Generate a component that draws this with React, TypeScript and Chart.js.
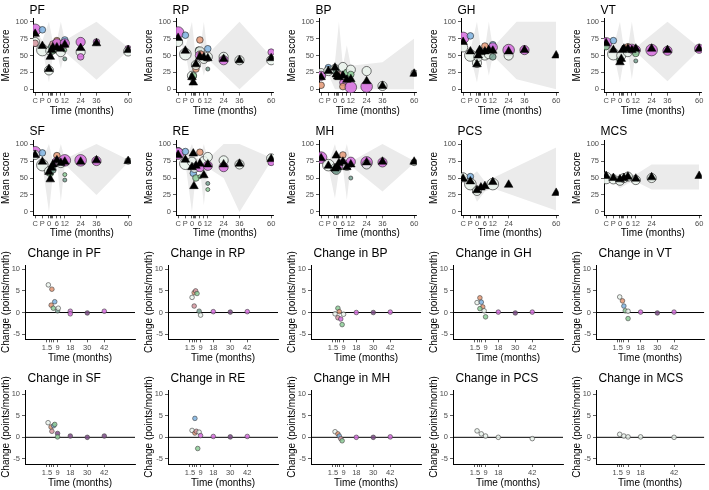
import React, { useEffect, useRef } from 'react';
import { Chart, registerables } from 'chart.js';
Chart.register(...registerables);

// time codes for baseline visits
const C = -10.5;
const P = -5;

// ---------- axis ticks ----------
const scoreTicks = [C, P, 0, 1, 2, 3, 6, 9, 12, 24, 36, 60];
const scoreTickLabels = ['C', 'P', '0', '', '', '', '6', '', '12', '24', '36', '60'];
const summaryTicks = [C, P, 0, 1, 2, 3, 6, 9, 12, 24, 60];
const summaryTickLabels = ['C', 'P', '0', '', '', '', '6', '', '12', '24', '60'];
const changeTicks = [1.5, 3, 4.5, 6, 9, 18, 30, 42];
const changeTickLabels = ['1.5', '', '', '', '9', '18', '30', '42'];
const changeSummaryTicks = [1.5, 3, 4.5, 6, 9, 18, 42];
const changeSummaryTickLabels = ['1.5', '', '', '', '9', '18', '42'];
const scoreYTicks = [0, 25, 50, 75, 100];
const changeYTicks = [-5, 0, 5, 10];

// ---------- mean score data: circles [time, score, n-class, group], triangles [time, pooled], ribbon [time, low, high] ----------
const pfCircles = [[C, 88, 4, 'mag'], [C, 70, 3, 'white'], [C, 68, 2, 'pink'], [P, 88, 2, 'blue'], [P, 58, 4, 'white'], [0, 28, 3, 'white'], [1, 57, 3, 'white'], [2, 63, 2, 'sage'], [3, 67, 2, 'pink'], [3, 57, 2, 'green'], [6, 72, 2, 'salmon'], [6, 68, 3, 'mag'], [9, 55, 3, 'white'], [12, 73, 2, 'blue'], [12, 68, 3, 'mag'], [12, 58, 1, 'green'], [12, 45, 1, 'sage'], [24, 70, 3, 'mag'], [24, 55, 3, 'white'], [24, 48, 2, 'mag'], [36, 70, 2, 'mag'], [60, 60, 2, 'mag'], [60, 56, 3, 'white']];
const pfTriangles = [[C, 82], [P, 64], [0, 30], [1, 48], [2, 58], [3, 62], [6, 62], [9, 60], [12, 66], [24, 61], [36, 68], [60, 58]];
const pfRibbon = [[C, 80, 88], [P, 60, 72], [0, 10, 100], [3, 50, 70], [6, 55, 72], [9, 30, 100], [12, 55, 72], [36, 14, 100], [60, 57, 62]];

const rpCircles = [[C, 84, 4, 'mag'], [C, 70, 3, 'white'], [P, 80, 2, 'blue'], [P, 52, 4, 'white'], [0, 20, 3, 'white'], [1, 20, 2, 'green'], [3, 30, 2, 'salmon'], [3, 36, 3, 'white'], [6, 73, 2, 'salmon'], [5, 58, 2, 'sage'], [6, 56, 3, 'white'], [6, 50, 3, 'mag'], [7, 52, 2, 'salmon'], [9, 45, 3, 'white'], [12, 60, 2, 'blue'], [12, 48, 3, 'white'], [12, 30, 1, 'sage'], [24, 48, 3, 'white'], [24, 43, 3, 'mag'], [36, 43, 3, 'white'], [60, 55, 2, 'mag'], [60, 43, 3, 'white']];
const rpTriangles = [[C, 76], [P, 57], [0, 18], [1, 10], [3, 37], [6, 48], [9, 47], [12, 46], [24, 45], [36, 43], [60, 46]];
const rpRibbon = [[C, 75, 85], [P, 55, 62], [0, 0, 100], [3, 30, 45], [6, 45, 55], [9, 20, 100], [12, 45, 52], [36, 0, 100], [60, 44, 48]];

const bpCircles = [[C, 24, 3, 'white'], [C, 20, 3, 'mag'], [C, 6, 2, 'salmon'], [P, 32, 2, 'blue'], [P, 27, 3, 'white'], [0, 30, 3, 'white'], [1, 25, 2, 'sage'], [3, 22, 2, 'pink'], [6, 33, 3, 'white'], [6, 10, 2, 'mag'], [6, 4, 2, 'salmon'], [9, 25, 2, 'green'], [12, 29, 3, 'white'], [12, 22, 2, 'green'], [12, 3, 4, 'mag'], [24, 27, 3, 'white'], [24, 4, 4, 'mag'], [36, 5, 3, 'white'], [60, 24, 2, 'white']];
const bpTriangles = [[C, 18], [P, 27], [0, 32], [1, 22], [2, 19], [3, 18], [6, 20], [9, 14], [12, 15], [24, 12], [36, 5], [60, 23]];
const bpRibbon = [[C, 15, 25], [P, 22, 30], [0, 0, 40], [3, 0, 100], [6, 0, 35], [9, 0, 65], [12, 0, 35], [36, 0, 40], [60, 0, 75]];

const ghCircles = [[C, 76, 4, 'mag'], [C, 62, 3, 'white'], [P, 79, 2, 'blue'], [P, 50, 4, 'white'], [0, 39, 3, 'white'], [1, 48, 3, 'white'], [2, 55, 2, 'sage'], [6, 64, 2, 'salmon'], [6, 50, 3, 'white'], [9, 52, 3, 'white'], [12, 66, 2, 'blue'], [12, 62, 3, 'mag'], [12, 48, 2, 'sage'], [24, 58, 4, 'mag'], [24, 50, 3, 'white'], [36, 58, 3, 'mag']];
const ghTriangles = [[C, 70], [P, 56], [0, 37], [1, 50], [2, 58], [3, 55], [6, 56], [9, 58], [12, 57], [24, 56], [36, 58], [60, 50]];
const ghRibbon = [[C, 65, 75], [P, 50, 58], [0, 10, 100], [3, 45, 60], [6, 50, 60], [9, 20, 100], [12, 50, 62], [30, 15, 100], [60, 0, 100]];

const vtCircles = [[C, 68, 4, 'mag'], [C, 63, 2, 'green'], [P, 72, 2, 'blue'], [P, 52, 4, 'white'], [0, 44, 2, 'green'], [1, 50, 3, 'white'], [6, 63, 2, 'salmon'], [6, 55, 3, 'white'], [9, 60, 3, 'mag'], [12, 58, 3, 'mag'], [12, 53, 2, 'green'], [12, 42, 1, 'sage'], [24, 58, 4, 'mag'], [36, 57, 3, 'mag'], [60, 60, 3, 'mag']];
const vtTriangles = [[C, 68], [P, 58], [0, 40], [1, 45], [2, 58], [3, 60], [6, 60], [9, 58], [12, 60], [24, 60], [36, 58], [60, 60]];
const vtRibbon = [[C, 65, 72], [P, 55, 62], [0, 10, 100], [3, 45, 60], [6, 55, 62], [9, 15, 100], [12, 55, 62], [36, 12, 100], [60, 58, 62]];

const sfCircles = [[C, 88, 4, 'mag'], [C, 84, 3, 'white'], [P, 87, 2, 'blue'], [P, 69, 4, 'white'], [0, 60, 3, 'white'], [1, 57, 2, 'green'], [3, 62, 2, 'sage'], [6, 83, 2, 'salmon'], [6, 74, 3, 'mag'], [9, 72, 3, 'white'], [12, 76, 4, 'mag'], [12, 55, 1, 'green'], [12, 47, 1, 'sage'], [24, 76, 4, 'mag'], [36, 75, 3, 'mag'], [60, 75, 2, 'white']];
const sfTriangles = [[C, 84], [P, 74], [0, 59], [1, 48], [2, 65], [3, 70], [6, 76], [9, 72], [12, 74], [24, 74], [36, 76], [60, 75]];
const sfRibbon = [[C, 83, 90], [P, 70, 76], [0, 0, 100], [3, 55, 75], [6, 72, 78], [9, 15, 100], [12, 70, 78], [36, 25, 100], [60, 73, 77]];

const reCircles = [[C, 90, 2, 'blue'], [C, 88, 3, 'white'], [C, 86, 4, 'mag'], [P, 89, 2, 'blue'], [P, 71, 4, 'white'], [0, 74, 3, 'white'], [1, 57, 2, 'blue'], [2, 65, 3, 'white'], [3, 50, 2, 'green'], [6, 88, 2, 'salmon'], [6, 66, 3, 'mag'], [6, 52, 1, 'green'], [9, 75, 3, 'white'], [12, 81, 3, 'white'], [12, 68, 3, 'mag'], [12, 42, 1, 'sage'], [12, 33, 1, 'green'], [24, 76, 3, 'white'], [24, 66, 3, 'mag'], [36, 70, 3, 'white'], [60, 79, 3, 'white'], [60, 73, 2, 'mag']];
const reTriangles = [[C, 84], [P, 77], [0, 66], [1, 86], [1.5, 38], [3, 68], [6, 71], [9, 54], [12, 70], [24, 70], [36, 71], [60, 78]];
const reRibbon = [[C, 80, 88], [P, 72, 78], [0, 0, 100], [3, 55, 80], [6, 65, 78], [9, 10, 100], [12, 65, 78], [24, 50, 100], [36, 0, 100], [60, 75, 80]];

const mhCircles = [[C, 80, 4, 'mag'], [P, 69, 4, 'white'], [0, 64, 3, 'white'], [1, 62, 3, 'sage'], [6, 84, 2, 'salmon'], [6, 71, 3, 'mag'], [9, 68, 3, 'white'], [12, 74, 3, 'mag'], [12, 50, 1, 'sage'], [24, 73, 4, 'mag'], [24, 70, 3, 'white'], [36, 73, 3, 'mag'], [60, 73, 2, 'white']];
const mhTriangles = [[C, 79], [P, 68], [0, 64], [1, 83], [2, 66], [3, 72], [6, 74], [9, 66], [12, 70], [24, 73], [36, 74], [60, 74]];
const mhRibbon = [[C, 77, 82], [P, 66, 72], [0, 20, 100], [3, 60, 75], [6, 65, 78], [9, 18, 100], [12, 68, 74], [36, 30, 100], [60, 72, 75]];

const pcsCircles = [[C, 51, 3, 'white'], [P, 52, 2, 'blue'], [P, 41, 4, 'white'], [0, 31, 3, 'white'], [12, 41, 4, 'white']];
const pcsTriangles = [[C, 49], [P, 45], [0, 32], [3, 36], [6, 38], [12, 44], [24, 40], [60, 28]];
const pcsRibbon = [[C, 45, 55], [P, 38, 52], [0, 15, 60], [6, 30, 45], [12, 35, 50], [60, 2, 95]];

const mcsCircles = [[C, 50, 4, 'white'], [P, 48, 3, 'white'], [0, 46, 3, 'white'], [3, 50, 3, 'white'], [6, 52, 3, 'white'], [12, 47, 3, 'white'], [24, 50, 3, 'white']];
const mcsTriangles = [[C, 53], [P, 50], [0, 48], [3, 50], [6, 52], [12, 49], [24, 51], [60, 53]];
const mcsRibbon = [[C, 45, 58], [P, 44, 55], [0, 35, 55], [6, 42, 55], [12, 45, 55], [24, 33, 70], [60, 33, 70]];

// ---------- change data: [time, points/month, group] ----------
const chPF = [[2.5, 6.4, 'white'], [5, 5.4, 'salmon'], [7, 2.5, 'blue'], [4.5, 1.7, 'salmon'], [6, 1.0, 'green'], [9, 0.4, 'sage'], [9.5, 1.0, 'white'], [18, 0.3, 'mag'], [18, -0.3, 'mag'], [30, -0.1, 'purple'], [42, 0.3, 'mag']];
const chRP = [[3, 3.5, 'white'], [4.5, 4.6, 'salmon'], [5.5, 5.0, 'pink'], [6.5, 4.4, 'green'], [4.5, 1.5, 'pink'], [8, 0.3, 'sage'], [9, -0.6, 'white'], [18, 0.2, 'mag'], [30, 0.1, 'purple'], [42, 0.2, 'mag']];
const chBP = [[3, -0.3, 'white'], [5, 1.0, 'green'], [6, 0.2, 'salmon'], [5, -1.2, 'pink'], [7, -1.5, 'mag'], [8, -2.8, 'green'], [9, -0.4, 'white'], [18, 0, 'mag'], [30, 0, 'purple'], [42, 0.1, 'mag']];
const chGH = [[3, 2.3, 'white'], [5, 3.4, 'salmon'], [6, 2.4, 'blue'], [7, 1.3, 'salmon'], [5, 0.9, 'green'], [8, 0.4, 'white'], [9, -1.0, 'green'], [18, 0.1, 'mag'], [30, -0.1, 'purple'], [42, 0.1, 'mag']];
const chVT = [[3, 3.6, 'white'], [5, 2.7, 'salmon'], [6, 1.5, 'blue'], [7, 0.4, 'green'], [9, -1.4, 'green'], [9, 0.3, 'white'], [18, 0.1, 'mag'], [30, -0.1, 'purple'], [42, 0.1, 'mag']];
const chSF = [[2.3, 3.4, 'white'], [4.4, 2.4, 'salmon'], [5, 1.4, 'pink'], [6.2, 2.7, 'blue'], [7, 3.0, 'green'], [9, 0.9, 'purple'], [9, 0.1, 'green'], [18, 0.3, 'purple'], [30, 0, 'purple'], [42, 0.3, 'purple']];
const chRE = [[3, 1.6, 'white'], [5, 4.4, 'blue'], [5, 1.0, 'salmon'], [6, 1.4, 'pink'], [8, 1.2, 'white'], [7, -2.6, 'green'], [9, 0.4, 'mag'], [18, 0.2, 'mag'], [30, 0.1, 'purple'], [42, 0.2, 'mag']];
const chMH = [[3, 1.3, 'white'], [5, 0.8, 'salmon'], [6, 0.3, 'blue'], [7, -0.3, 'pink'], [8, -0.8, 'green'], [18, 0, 'mag'], [30, 0, 'purple'], [42, 0.1, 'mag']];
const chPCS = [[3, 1.5, 'white'], [6, 0.8, 'white'], [9, 0.3, 'white'], [18, 0, 'white'], [42, -0.3, 'white']];
const chMCS = [[3, 0.7, 'white'], [6, 0.3, 'white'], [9, 0.1, 'white'], [18, 0.1, 'white'], [42, 0, 'white']];

// ---------- styling ----------
const palette: Record<string, string> = {
  mag: 'rgba(214,108,222,0.85)',
  blue: 'rgba(125,178,225,0.85)',
  salmon: 'rgba(228,150,115,0.85)',
  green: 'rgba(140,205,150,0.85)',
  sage: 'rgba(118,160,145,0.85)',
  white: 'rgba(234,243,236,0.85)',
  pink: 'rgba(214,150,160,0.85)',
  purple: 'rgba(125,75,135,0.85)',
};
const radiusByClass: Record<number, number> = { 1: 2, 2: 3.3, 3: 4.6, 4: 5.8 };
const FONT = 'Arial, "Liberation Sans", Helvetica, sans-serif';

const rows = [
  { top: 0, h: 118, areaTop: 18.3, areaBottom: 92.7, titleY: 11 },
  { top: 118, h: 122, areaTop: 22.7, areaBottom: 97.3, titleY: 13.3 },
  { top: 240, h: 125, areaTop: 25, areaBottom: 99.3, titleY: 14 },
  { top: 365, h: 125, areaTop: 25, areaBottom: 99, titleY: 13.5 },
];

type Spec = {
  kind: 'score' | 'change';
  title: string;
  row: number;
  col: number;
  circles?: any[];
  triangles?: any[];
  ribbon?: any[];
  changes?: any[];
  xt: number[];
  xl: string[];
};

const specs: Spec[] = [
  { kind: 'score', title: 'PF', row: 0, col: 0, circles: pfCircles, triangles: pfTriangles, ribbon: pfRibbon, xt: scoreTicks, xl: scoreTickLabels },
  { kind: 'score', title: 'RP', row: 0, col: 1, circles: rpCircles, triangles: rpTriangles, ribbon: rpRibbon, xt: scoreTicks, xl: scoreTickLabels },
  { kind: 'score', title: 'BP', row: 0, col: 2, circles: bpCircles, triangles: bpTriangles, ribbon: bpRibbon, xt: scoreTicks, xl: scoreTickLabels },
  { kind: 'score', title: 'GH', row: 0, col: 3, circles: ghCircles, triangles: ghTriangles, ribbon: ghRibbon, xt: scoreTicks, xl: scoreTickLabels },
  { kind: 'score', title: 'VT', row: 0, col: 4, circles: vtCircles, triangles: vtTriangles, ribbon: vtRibbon, xt: scoreTicks, xl: scoreTickLabels },
  { kind: 'score', title: 'SF', row: 1, col: 0, circles: sfCircles, triangles: sfTriangles, ribbon: sfRibbon, xt: scoreTicks, xl: scoreTickLabels },
  { kind: 'score', title: 'RE', row: 1, col: 1, circles: reCircles, triangles: reTriangles, ribbon: reRibbon, xt: scoreTicks, xl: scoreTickLabels },
  { kind: 'score', title: 'MH', row: 1, col: 2, circles: mhCircles, triangles: mhTriangles, ribbon: mhRibbon, xt: scoreTicks, xl: scoreTickLabels },
  { kind: 'score', title: 'PCS', row: 1, col: 3, circles: pcsCircles, triangles: pcsTriangles, ribbon: pcsRibbon, xt: summaryTicks, xl: summaryTickLabels },
  { kind: 'score', title: 'MCS', row: 1, col: 4, circles: mcsCircles, triangles: mcsTriangles, ribbon: mcsRibbon, xt: summaryTicks, xl: summaryTickLabels },
  { kind: 'change', title: 'Change in PF', row: 2, col: 0, changes: chPF, xt: changeTicks, xl: changeTickLabels },
  { kind: 'change', title: 'Change in RP', row: 2, col: 1, changes: chRP, xt: changeTicks, xl: changeTickLabels },
  { kind: 'change', title: 'Change in BP', row: 2, col: 2, changes: chBP, xt: changeTicks, xl: changeTickLabels },
  { kind: 'change', title: 'Change in GH', row: 2, col: 3, changes: chGH, xt: changeTicks, xl: changeTickLabels },
  { kind: 'change', title: 'Change in VT', row: 2, col: 4, changes: chVT, xt: changeTicks, xl: changeTickLabels },
  { kind: 'change', title: 'Change in SF', row: 3, col: 0, changes: chSF, xt: changeTicks, xl: changeTickLabels },
  { kind: 'change', title: 'Change in RE', row: 3, col: 1, changes: chRE, xt: changeTicks, xl: changeTickLabels },
  { kind: 'change', title: 'Change in MH', row: 3, col: 2, changes: chMH, xt: changeTicks, xl: changeTickLabels },
  { kind: 'change', title: 'Change in PCS', row: 3, col: 3, changes: chPCS, xt: changeSummaryTicks, xl: changeSummaryTickLabels },
  { kind: 'change', title: 'Change in MCS', row: 3, col: 4, changes: chMCS, xt: changeSummaryTicks, xl: changeSummaryTickLabels },
];

const titlePlugin = {
  id: 'panelTitle',
  afterDraw(chart: any, _args: any, opts: any) {
    const { ctx, chartArea } = chart;
    ctx.save();
    ctx.font = `12px ${FONT}`;
    ctx.fillStyle = '#000';
    ctx.textAlign = 'left';
    ctx.textBaseline = 'middle';
    ctx.fillText(opts.text, chartArea.left + opts.dx, opts.y);
    ctx.restore();
  },
};

function buildConfig(spec: Spec, w: number, h: number) {
  const isScore = spec.kind === 'score';
  const row = rows[spec.row];
  const yW = isScore ? 33 : 25;
  const areaW = isScore ? 97.8 : 110;
  const xMin = isScore ? -12.1 : -14;
  const xMax = isScore ? 62 : 63.7;
  const datasets: any[] = [];
  if (isScore) {
    const rb = spec.ribbon!;
    datasets.push({ type: 'line', data: rb.map((r) => ({ x: r[0], y: r[2] })), borderWidth: 0, pointRadius: 0, fill: '+1', backgroundColor: '#ebebeb', tension: 0, order: 10 });
    datasets.push({ type: 'line', data: rb.map((r) => ({ x: r[0], y: r[1] })), borderWidth: 0, pointRadius: 0, fill: false, tension: 0, order: 11 });
    const cs = spec.circles!;
    datasets.push({
      type: 'scatter',
      data: cs.map((c) => ({ x: c[0], y: c[1] })),
      pointRadius: cs.map((c) => radiusByClass[c[2]]),
      pointBackgroundColor: cs.map((c) => palette[c[3]]),
      pointBorderColor: 'rgba(40,40,40,0.9)',
      pointBorderWidth: 0.7,
      order: 5,
    });
    const ts = spec.triangles!;
    datasets.push({
      type: 'scatter',
      data: ts.map((t) => ({ x: t[0], y: t[1] })),
      pointStyle: 'triangle',
      pointRadius: 5,
      pointBackgroundColor: '#000',
      pointBorderColor: '#000',
      pointBorderWidth: 0.5,
      order: 1,
    });
  } else {
    datasets.push({ type: 'line', data: [{ x: xMin, y: 0 }, { x: xMax, y: 0 }], borderColor: '#000', borderWidth: 1, pointRadius: 0, fill: false, order: 10 });
    const ch = spec.changes!;
    datasets.push({
      type: 'scatter',
      data: ch.map((c) => ({ x: c[0], y: c[1] })),
      pointRadius: 2.3,
      pointBackgroundColor: ch.map((c) => palette[c[2]]),
      pointBorderColor: 'rgba(70,70,70,0.9)',
      pointBorderWidth: 0.7,
      order: 1,
    });
  }
  const yt = isScore ? scoreYTicks : changeYTicks;
  const tickFont = { size: 7.5, family: FONT };
  const gridCfg = { display: true, drawOnChartArea: false, drawTicks: true, tickLength: 3, color: '#333', lineWidth: 0.8 };
  return {
    type: 'scatter',
    data: { datasets },
    options: {
      animation: false,
      responsive: false,
      devicePixelRatio: 1,
      events: [],
      layout: { padding: { top: row.areaTop, right: w - yW - areaW, left: 0, bottom: 0 } },
      plugins: {
        legend: { display: false },
        tooltip: { enabled: false },
        panelTitle: { text: spec.title, dx: isScore ? -3.5 : 2.5, y: row.titleY },
      },
      scales: {
        x: {
          type: 'linear',
          min: xMin,
          max: xMax,
          afterFit: (s: any) => { s.height = h - row.areaBottom; },
          afterBuildTicks: (s: any) => { s.ticks = spec.xt.map((v) => ({ value: v })); },
          ticks: {
            autoSkip: false, maxRotation: 0, minRotation: 0, padding: 1, font: tickFont, color: '#4d4d4d',
            callback: (v: number) => { const i = spec.xt.indexOf(v); return i >= 0 ? spec.xl[i] : ''; },
          },
          grid: gridCfg,
          border: { display: true, color: '#000', width: 1 },
          title: { display: true, text: 'Time (months)', font: { size: 10, family: FONT }, color: '#000', padding: { top: 0, bottom: 1 } },
        },
        y: {
          type: 'linear',
          min: isScore ? -5 : -6.2,
          max: isScore ? 105 : 11,
          afterFit: (s: any) => { s.width = yW; },
          afterBuildTicks: (s: any) => { s.ticks = yt.map((v) => ({ value: v })); },
          ticks: { autoSkip: false, padding: 2, font: tickFont, color: '#4d4d4d' },
          grid: gridCfg,
          border: { display: true, color: '#000', width: 1 },
          title: { display: true, text: isScore ? 'Mean score' : 'Change (points/month)', font: { size: 10, family: FONT }, color: '#000', padding: { top: 0, bottom: 1 } },
        },
      },
    },
    plugins: [titlePlugin],
  };
}

function Panel({ spec }: { spec: Spec }) {
  const ref = useRef<HTMLCanvasElement | null>(null);
  const row = rows[spec.row];
  const left = Math.round(spec.col * 142.8);
  const w = spec.col < 4 ? 142 : 709 - left;
  const h = row.h;
  useEffect(() => {
    const chart = new Chart(ref.current as HTMLCanvasElement, buildConfig(spec, w, h) as any);
    return () => chart.destroy();
  }, []);
  return (
    <div style={{ position: 'absolute', left, top: row.top, width: w, height: h }}>
      <canvas ref={ref} width={w} height={h} style={{ width: w, height: h, display: 'block' }} />
    </div>
  );
}

export default function App() {
  return (
    <div style={{ position: 'fixed', left: 0, top: 0, width: 709, height: 490, background: '#fff', overflow: 'hidden' }}>
      {specs.map((s) => (
        <Panel key={s.title} spec={s} />
      ))}
    </div>
  );
}
